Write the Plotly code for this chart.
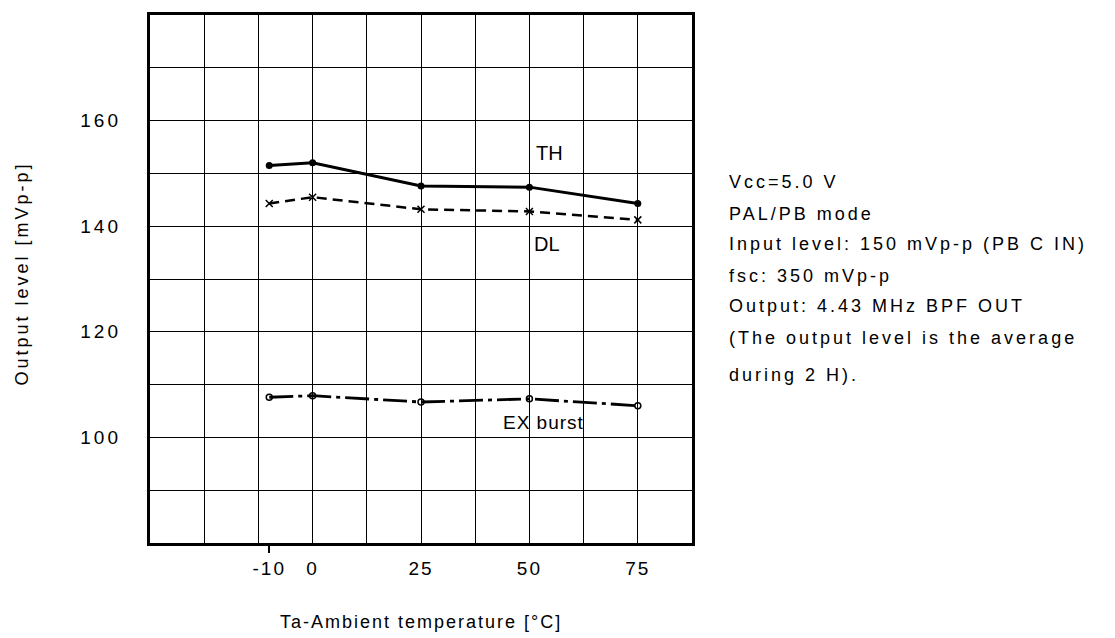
import plotly.graph_objects as go

# ---- data ----
temps = [-10, 0, 25, 50, 75]
th_vals = [151.5, 152.0, 147.6, 147.4, 144.3]
dl_vals = [144.3, 145.5, 143.2, 142.8, 141.2]
ex_vals = [107.6, 107.9, 106.7, 107.3, 106.0]

x_tick_vals = [-10, 0, 25, 50, 75]
x_tick_text = ["-10", "0", "25", "50", "75"]
y_tick_vals = [100, 120, 140, 160]
y_tick_text = ["100", "120", "140", "160"]

note_lines = [
    "Vcc=5.0 V",
    "PAL/PB mode",
    "Input level: 150 mVp-p (PB C IN)",
    "fsc: 350 mVp-p",
    "Output: 4.43 MHz BPF OUT",
    "(The output level is the average",
    "during 2 H).",
]
note_y_px = [180, 212, 242, 274, 305, 337, 374]

FONT = "Liberation Sans, Arial, sans-serif"


def spaced(t, ls):
    return f"<span style='letter-spacing:{ls}px'>{t}</span>"


# plot area in pixels
L, R, T, B = 150, 692, 12, 543
W, H = 1115, 638


def py(ypx):
    return (B - ypx) / (B - T)


def px(xpx):
    return (xpx - L) / (R - L)


fig = go.Figure()
fig.add_trace(go.Scatter(
    x=temps, y=th_vals, mode="lines+markers", name="TH",
    line=dict(color="black", width=3),
    marker=dict(symbol="circle", size=7, color="black"),
))
fig.add_trace(go.Scatter(
    x=temps, y=dl_vals, mode="lines+markers", name="DL",
    line=dict(color="black", width=2.5, dash="10px,6px"),
    marker=dict(symbol="x-thin-open", size=7, color="black", line=dict(width=1.5, color="black")),
))
fig.add_trace(go.Scatter(
    x=temps, y=ex_vals, mode="lines+markers", name="EX burst",
    line=dict(color="black", width=2.8, dash="24px,5px,4px,5px"),
    marker=dict(symbol="circle-open", size=6, color="black", line=dict(width=1.5, color="black")),
))

annos = [
    dict(x=51.0, y=153.8, text="TH", xanchor="left", yanchor="middle",
         font=dict(size=20)),
    dict(x=50.5, y=136.6, text="DL", xanchor="left", yanchor="middle",
         font=dict(size=20)),
    dict(x=43.5, y=102.8, text=spaced("EX burst", 1), xanchor="left", yanchor="middle",
         font=dict(size=19)),
]
for a in annos:
    a.update(xref="x", yref="y", showarrow=False)
    a["font"].update(family=FONT, color="black")
    fig.add_annotation(**a)

for t, ypx in zip(note_lines, note_y_px):
    fig.add_annotation(xref="paper", yref="paper", x=px(727), y=py(ypx),
                       text=spaced(t, 3), showarrow=False, xanchor="left", yanchor="middle",
                       font=dict(family=FONT, size=18, color="black"))

fig.add_annotation(xref="paper", yref="paper", x=0.5, y=py(622),
                   text=spaced("Ta-Ambient temperature [°C]", 2), showarrow=False,
                   xanchor="center", yanchor="middle",
                   font=dict(family=FONT, size=18, color="black"))
fig.add_annotation(xref="paper", yref="paper", x=px(22), y=py(272),
                   text=spaced("Output level [mVp-p]", 3), showarrow=False, textangle=-90,
                   xanchor="center", yanchor="middle",
                   font=dict(family=FONT, size=18, color="black"))

fig.update_layout(
    width=W, height=H,
    margin=dict(l=L, r=W - R, t=T, b=H - B, pad=0),
    paper_bgcolor="white", plot_bgcolor="white",
    showlegend=False,
    font=dict(family=FONT, color="black"),
    xaxis=dict(range=[-37.5, 87.5], tick0=-37.5, dtick=12.5, showgrid=True,
               gridcolor="black", gridwidth=1.3, showticklabels=False, ticks="",
               minor=dict(tickmode="array", tickvals=[-10], ticks="outside",
                          ticklen=7, tickwidth=2, tickcolor="black", showgrid=False),
               zeroline=False, showline=True, linecolor="black", linewidth=2.5, mirror=True),
    yaxis=dict(range=[80, 180], tick0=80, dtick=10, showgrid=True,
               gridcolor="black", gridwidth=1.3, showticklabels=False, ticks="",
               zeroline=False, showline=True, linecolor="black", linewidth=2.5, mirror=True),
    xaxis2=dict(overlaying="x", anchor="y", side="bottom", range=[-37.5, 87.5],
                tickmode="array", tickvals=x_tick_vals,
                ticktext=[spaced(t, 2) for t in x_tick_text],
                showgrid=False, zeroline=False, showline=False, ticks="",
                ticklabelstandoff=12,
                tickfont=dict(family=FONT, size=19, color="black")),
    yaxis2=dict(overlaying="y", anchor="x", side="left", range=[80, 180],
                tickmode="array", tickvals=y_tick_vals,
                ticktext=[spaced(t, 3) for t in y_tick_text],
                showgrid=False, zeroline=False, showline=False, ticks="",
                ticklabelstandoff=28,
                tickfont=dict(family=FONT, size=19, color="black")),
)
# invisible carrier trace so the overlay axes are drawn
fig.add_trace(go.Scatter(x=[None], y=[None], xaxis="x2", yaxis="y2",
                         mode="markers", showlegend=False, hoverinfo="skip"))

fig.write_html("out.html")
